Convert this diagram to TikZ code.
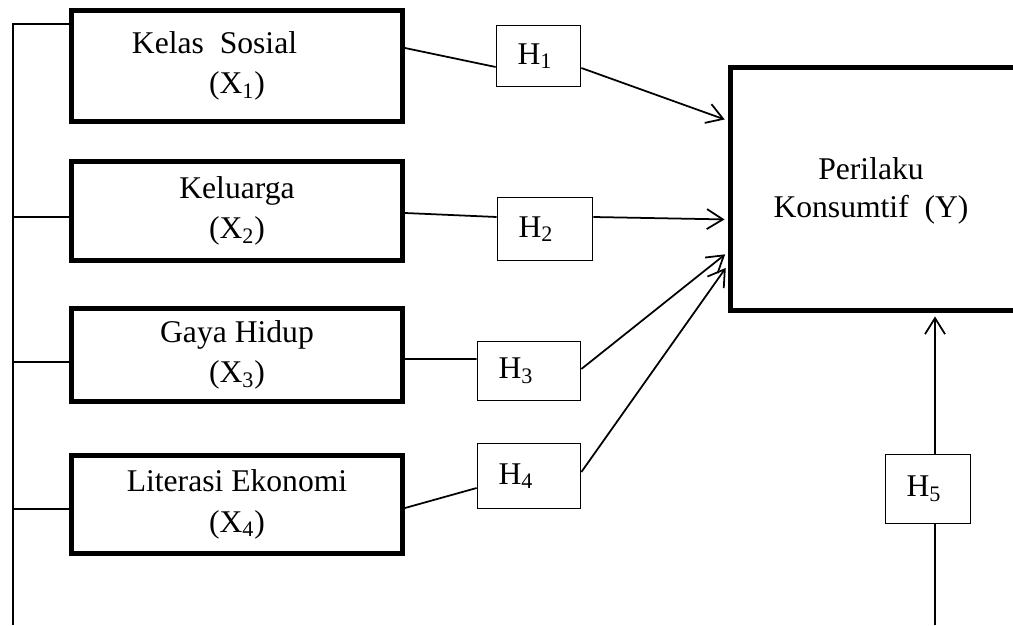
\documentclass[tikz,border=0pt]{standalone}
\usepackage{fontspec}
\setmainfont{Liberation Serif}
\usetikzlibrary{arrows.meta, calc}

\begin{document}
\begin{tikzpicture}[
  x=0.02cm, y=-0.02cm,
  varbox/.style={draw, line width=0.1cm, minimum width=6.62cm, align=center,
                 inner sep=0pt, font=\fontsize{18}{23}\selectfont},
  hbox/.style={draw, line width=1pt, inner xsep=0.42cm, inner ysep=0pt,
               text width=#1, align=left, font=\fontsize{18}{20}\selectfont},
  conn/.style={line width=1pt},
  arr/.style={line width=1pt, -{Straight Barb[length=0.32cm, width=0.4cm]}, shorten >=0.06cm}
]
  \useasboundingbox (0,0) rectangle (1013,625);

  \node[varbox, minimum height=2.22cm] (X1) at (237,66)    {Kelas\ \ Sosial\hspace*{0.9cm}\\(X\textsubscript{1})};
  \node[varbox, minimum height=1.98cm] (X2) at (237,211)   {Keluarga\\(X\textsubscript{2})};
  \node[varbox, minimum height=1.86cm] (X3) at (237,355)   {Gaya Hidup\\(X\textsubscript{3})};
  \node[varbox, minimum height=1.96cm] (X4) at (237,504.5) {Literasi Ekonomi\\(X\textsubscript{4})};

  \node[hbox=0.84cm, minimum width=1.68cm, minimum height=1.22cm] (H1) at (538.5,56) {H\textsubscript{1}};
  \node[hbox=1.06cm, minimum width=1.9cm,  minimum height=1.26cm] (H2) at (545,229)  {H\textsubscript{2}};
  \node[hbox=1.22cm, minimum width=2.06cm, minimum height=1.18cm] (H3) at (529,371)  {H\textsubscript{3}};
  \node[hbox=1.22cm, minimum width=2.06cm, minimum height=1.3cm]  (H4) at (529,476)  {H\textsubscript{4}};
  \node[hbox=0.86cm, minimum width=1.7cm,  minimum height=1.38cm] (H5) at (928,489)  {H\textsubscript{5}};

  \node[varbox, anchor=north west, minimum width=8cm, minimum height=4.86cm] (Y) at (727.5,65.5) {};
  \node[align=center, font=\fontsize{18}{22}\selectfont] (Ylabel) at (871,191) {Perilaku\\Konsumtif\ \ (Y)};

  \coordinate (bustop) at (13,24);
  \coordinate (busend) at (13,625);
  \draw[conn] (busend) -- (bustop) -- (bustop -| X1.west);
  \foreach \n/\dy in {2/-0.12, 3/-0.14, 4/-0.09} {
    \coordinate (in\n) at ([yshift=\dy cm]X\n.west);
    \draw[conn] (in\n -| bustop) -- (in\n);
  }

  \draw[conn] ([yshift=0.36cm]X1.east)  -- ([yshift=-0.22cm]H1.west);
  \draw[conn] ([yshift=-0.04cm]X2.east) -- ([yshift=0.24cm]H2.west);
  \draw[conn] ([yshift=-0.08cm]X3.east) -- ([yshift=0.24cm]H3.west);
  \draw[conn] ([yshift=-0.07cm]X4.east) -- ([yshift=-0.24cm]H4.west);

  \draw[arr] ([yshift=-0.24cm]H1.east) -- ([yshift=1.38cm]Y.west);
  \draw[arr] ([yshift=0.24cm]H2.east)  -- ([yshift=-0.6cm]Y.west);
  \draw[arr] ([yshift=0.04cm]H3.east)  -- ([yshift=-1.26cm]Y.west);
  \draw[arr] ([yshift=0.08cm]H4.east)  -- ([yshift=-1.52cm]Y.west);

  \coordinate (h5end) at (935,625);
  \draw[conn] (h5end) -- (h5end |- H5.south);
  \draw[arr] (h5end |- H5.north) -- (h5end |- Y.south);
\end{tikzpicture}
\end{document}
